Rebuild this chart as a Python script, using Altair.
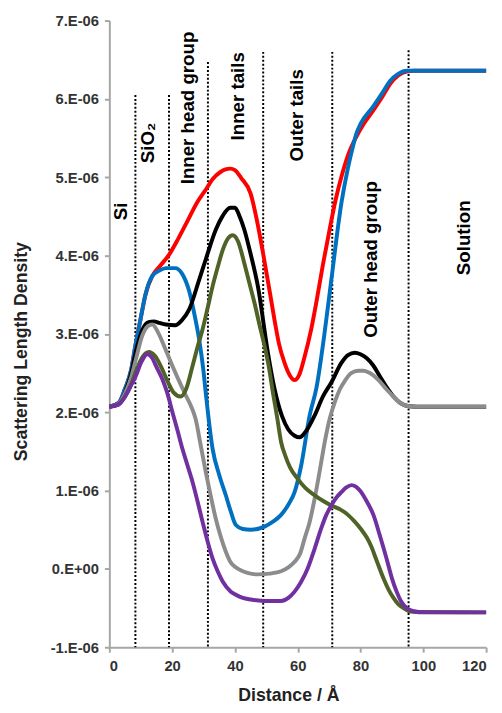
import altair as alt
import pandas as pd

# ---- data (SLD in units of 1E-06) ----
red_x = [0, 3, 5, 7, 8.3, 10, 11.5, 13.7, 16, 19, 22, 25, 28, 30.7, 33, 35.5, 37, 38.5, 40, 42, 45, 47, 49, 51, 52.6, 54, 55.8, 57.5, 59, 60.5, 62, 64.3, 66, 68, 70, 72, 74, 76, 78.7, 81, 84, 87, 89.4, 92, 94.7, 97, 100, 120]
red_y = [2.07, 2.12, 2.3, 2.55, 2.85, 3.2, 3.5, 3.74, 3.86, 4.01, 4.22, 4.45, 4.68, 4.84, 4.98, 5.07, 5.10, 5.11, 5.09, 4.99, 4.79, 4.45, 4.02, 3.56, 3.18, 2.88, 2.63, 2.47, 2.41, 2.48, 2.68, 3.06, 3.42, 3.88, 4.30, 4.70, 5.02, 5.28, 5.52, 5.68, 5.85, 6.03, 6.19, 6.30, 6.35, 6.36, 6.36, 6.36]

blue_x = [0, 3, 5, 7, 8.3, 10, 11.5, 13.7, 16, 18, 21, 23, 25.4, 27, 28.6, 30, 30.7, 32.9, 35, 37.1, 38.7, 40.3, 42.5, 45.1, 49.4, 52, 54.7, 57, 59, 61.1, 63.8, 66, 68.5, 70.7, 73.9, 76, 77.5, 78.7, 80, 84, 87, 89.4, 92, 94.7, 97, 120]
blue_y = [2.07, 2.12, 2.3, 2.55, 2.85, 3.2, 3.5, 3.74, 3.81, 3.84, 3.84, 3.78, 3.55, 3.27, 2.93, 2.52, 2.25, 1.53, 1.2, 0.94, 0.73, 0.56, 0.51, 0.50, 0.54, 0.60, 0.69, 0.82, 0.98, 1.32, 1.96, 2.32, 3.0, 3.69, 4.67, 5.12, 5.38, 5.56, 5.68, 5.90, 6.08, 6.23, 6.32, 6.36, 6.36, 6.36]

black_x = [0, 3, 5, 7, 8.3, 10.5, 12.5, 14.2, 16, 18, 21, 23, 25.4, 28.6, 30.7, 33.9, 36, 38.5, 40, 41.5, 43, 45, 47.3, 50.5, 52.6, 55, 57, 59, 60.6, 62.5, 65.4, 68, 70.7, 73.9, 76, 78.2, 80, 82, 84, 86, 88.3, 90.5, 92.6, 95, 98, 120]
black_y = [2.07, 2.11, 2.25, 2.5, 2.75, 3.05, 3.15, 3.16, 3.14, 3.12, 3.11, 3.17, 3.31, 3.69, 3.95, 4.33, 4.50, 4.61, 4.61, 4.50, 4.33, 4.02, 3.61, 2.76, 2.30, 1.95, 1.78, 1.70, 1.68, 1.75, 1.96, 2.20, 2.38, 2.63, 2.73, 2.76, 2.74, 2.69, 2.60, 2.47, 2.32, 2.20, 2.12, 2.08, 2.07, 2.07]

gray_x = [0, 3, 5, 7, 8.3, 10.5, 12.3, 13.7, 15.5, 17.9, 20, 22.2, 24.3, 26, 27.5, 29, 30.7, 32.3, 33.9, 35.5, 37.1, 38.7, 40.3, 42, 44, 47.3, 51, 54.7, 57, 59, 60.8, 62.2, 63.8, 65.4, 67, 68.6, 70.2, 71.8, 73.5, 75, 77, 79.3, 81, 83, 85.5, 88.3, 90.5, 92.6, 95, 98, 120]
gray_y = [2.07, 2.11, 2.24, 2.45, 2.65, 2.98, 3.10, 3.12, 3.02, 2.80, 2.60, 2.40, 2.22, 2.08, 1.91, 1.60, 1.24, 0.93, 0.64, 0.41, 0.22, 0.08, 0.02, -0.02, -0.05, -0.07, -0.06, -0.03, 0.02, 0.09, 0.20, 0.39, 0.60, 0.90, 1.25, 1.62, 1.92, 2.13, 2.30, 2.40, 2.50, 2.53, 2.53, 2.50, 2.42, 2.29, 2.20, 2.12, 2.08, 2.07, 2.07]

green_x = [0, 3, 5, 7, 8.3, 10.5, 12.6, 14.5, 16.5, 18.5, 20.5, 22.7, 24.5, 26.5, 28, 29.7, 31.3, 32.9, 34.5, 36.1, 37.8, 39.3, 41, 43, 44.6, 46.2, 47.8, 49.4, 50.8, 52.1, 53.5, 54.7, 56, 57.5, 60, 62.5, 65.4, 68, 70.7, 73.5, 76, 78, 80.3, 82, 83.5, 85, 87.3, 89, 90.5, 92, 93.7, 95.5, 98, 120]
green_y = [2.07, 2.10, 2.20, 2.36, 2.50, 2.70, 2.77, 2.72, 2.58, 2.40, 2.25, 2.20, 2.30, 2.59, 2.82, 3.06, 3.33, 3.61, 3.85, 4.07, 4.22, 4.26, 4.18, 3.90, 3.65, 3.40, 3.12, 2.85, 2.58, 2.25, 1.92, 1.62, 1.45, 1.30, 1.15, 1.03, 0.94, 0.87, 0.81, 0.76, 0.69, 0.61, 0.50, 0.40, 0.28, 0.12, -0.12, -0.27, -0.37, -0.45, -0.50, -0.54, -0.55, -0.555]

purple_x = [0, 3, 5, 7, 8.3, 10.3, 12.1, 13.5, 15, 16.9, 18.5, 20.1, 21.7, 23.3, 24.9, 26.5, 28.1, 29.7, 31.3, 32.9, 34.5, 36.1, 38.7, 40.3, 42.5, 45.1, 50, 54.7, 57, 59, 61, 63.2, 65.4, 67.5, 69, 70.7, 72.3, 73.9, 75.5, 77.1, 78.5, 79.8, 82, 84.1, 86.2, 88.3, 90, 91.5, 93, 94.7, 97, 100, 120]
purple_y = [2.07, 2.10, 2.20, 2.35, 2.45, 2.65, 2.74, 2.70, 2.58, 2.42, 2.24, 2.00, 1.77, 1.53, 1.32, 1.11, 0.86, 0.60, 0.35, 0.13, -0.03, -0.16, -0.29, -0.33, -0.37, -0.39, -0.41, -0.41, -0.37, -0.29, -0.17, 0.01, 0.26, 0.52, 0.68, 0.81, 0.91, 0.98, 1.04, 1.07, 1.05, 1.00, 0.86, 0.69, 0.42, 0.13, -0.12, -0.29, -0.42, -0.50, -0.54, -0.555, -0.555]

series = [
    ("red", red_x, red_y, "#FF0000"),
    ("blue", blue_x, blue_y, "#0070C0"),
    ("black", black_x, black_y, "#000000"),
    ("gray", gray_x, gray_y, "#8C8C8C"),
    ("green", green_x, green_y, "#4F6228"),
    ("purple", purple_x, purple_y, "#7030A0"),
]

# region boundaries (dotted lines)
boundary_x = [8.3, 19, 31.4, 49, 71, 95.3]
boundary_top = [6.05, 6.05, 6.47, 6.6, 6.6, 6.62]

# region labels
label_text = ["Si", "SiO\u2082", "Inner head group", "Inner tails", "Outer tails", "Outer head group", "Solution"]
label_x = [3.7, 12.3, 25.0, 41.0, 59.7, 83.4, 113.1]
label_y = [4.45, 5.18, 4.91, 5.47, 5.2, 2.95, 3.75]

FONT = "Liberation Sans"

xscale = alt.Scale(domain=[0, 120], nice=False, zero=False)
yscale = alt.Scale(domain=[-1, 7], nice=False, zero=False)

xaxis = alt.Axis(values=[0, 20, 40, 60, 80, 100, 120], title="Distance / Å",
                 titleX=182, titleY=54, titleBaseline="alphabetic")
yaxis = alt.Axis(values=[-1, 0, 1, 2, 3, 4, 5, 6, 7], title="Scattering Length Density",
                 labelExpr="datum.value == 0 ? '0.E+00' : datum.value + '.E-06'",
                 titleX=-80, titleY=336)

layers = []

bdf = pd.DataFrame({"x": boundary_x, "top": boundary_top, "bottom": [-1] * len(boundary_x)})
rules = alt.Chart(bdf).mark_rule(color="black", strokeDash=[2, 2], strokeWidth=2).encode(
    x=alt.X("x:Q", scale=xscale, axis=xaxis),
    y=alt.Y("top:Q", scale=yscale, axis=yaxis),
    y2="bottom:Q",
)
layers.append(rules)

for name, xs, ys, col in series:
    df = pd.DataFrame({"x": xs, "y": ys})
    ln = alt.Chart(df).mark_line(color=col, strokeWidth=4, interpolate="monotone").encode(
        x=alt.X("x:Q", scale=xscale, axis=xaxis),
        y=alt.Y("y:Q", scale=yscale, axis=yaxis),
    )
    layers.append(ln)

ldf = pd.DataFrame({"x": label_x, "y": label_y, "t": label_text})
texts = alt.Chart(ldf).mark_text(angle=270, align="left", baseline="middle", fontSize=19,
                                  fontWeight="bold", font=FONT, color="black").encode(
    x=alt.X("x:Q", scale=xscale),
    y=alt.Y("y:Q", scale=yscale),
    text="t:N",
)
layers.append(texts)

chart = alt.layer(*layers).properties(
    width=494, height=702,
    autosize=alt.AutoSizeParams(type="fit", contains="padding"),
    padding={"left": 5, "top": 0, "right": 0, "bottom": 0},
).configure_view(stroke=None).configure_axis(
    grid=False,
    domainColor="#A6A6A6", domainWidth=2,
    tickColor="#A6A6A6", tickWidth=2, tickSize=5,
    labelFont=FONT, labelFontSize=15, labelFontWeight="bold", labelColor="#333333",
    labelPadding=6,
    titleFont=FONT, titleFontSize=18, titleFontWeight="bold", titleColor="#222222",
).configure_axisX(labelPadding=7)

chart.save("out.html", embed_options={"renderer": "svg", "actions": False})
